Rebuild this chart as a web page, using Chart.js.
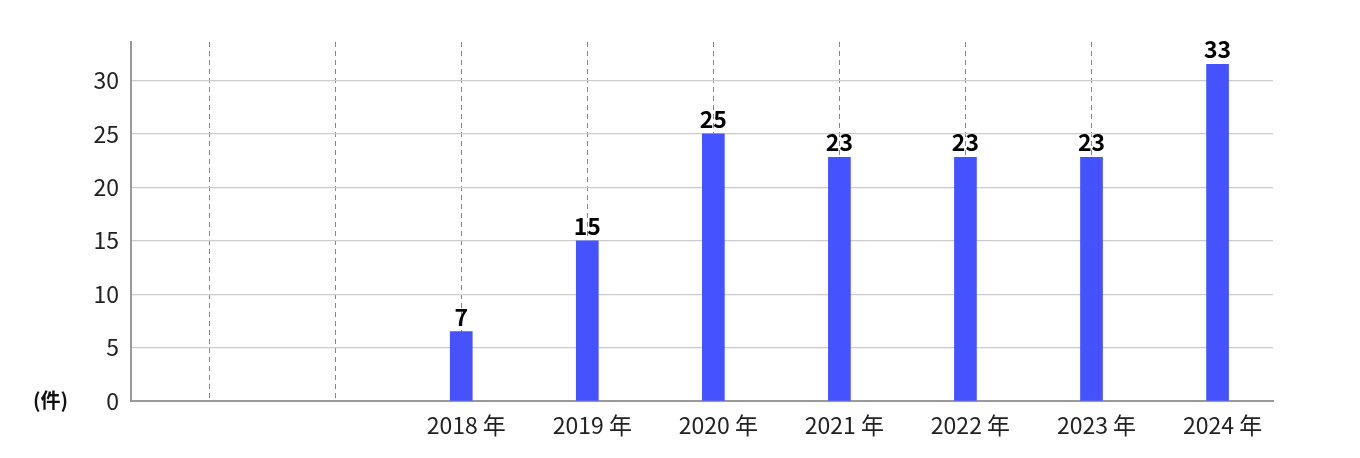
<!DOCTYPE html>
<html>
<head>
<meta charset="utf-8">
<script src="https://cdn.jsdelivr.net/npm/chart.js@4"></script>
<style>
html,body{margin:0;padding:0;background:#fff;}
#wrap{width:1360px;height:458px;position:relative;}
</style>
</head>
<body>
<div id="wrap"><canvas id="c" width="1360" height="458"></canvas></div>
<script>
const categories = ['', '', '2018 年', '2019 年', '2020 年', '2021 年', '2022 年', '2023 年', '2024 年'];
const barValues = [null, null, 6.5, 15, 25, 22.8, 22.8, 22.8, 31.5];
const valueLabels = ['', '', '7', '15', '25', '23', '23', '23', '33'];
const yTicks = [0, 5, 10, 15, 20, 25, 30];
const unitLabel = '(件)';

const FONT = "'Noto Sans CJK JP', 'Noto Sans', sans-serif";

const labelPlugin = {
  id: 'valueLabels',
  afterDatasetsDraw(chart) {
    const ctx = chart.ctx;
    const meta = chart.getDatasetMeta(0);
    ctx.save();
    ctx.font = 'bold 23px ' + FONT;
    ctx.fillStyle = '#000';
    ctx.textAlign = 'center';
    ctx.textBaseline = 'alphabetic';
    meta.data.forEach((el, i) => {
      if (!valueLabels[i]) return;
      ctx.fillText(valueLabels[i], el.x, el.y - 6);
    });
    const ys = chart.scales.y;
    ctx.font = '600 20px ' + FONT;
    ctx.textAlign = 'left';
    ctx.textBaseline = 'middle';
    ctx.fillStyle = '#111';
    ctx.fillText(unitLabel, 33, ys.getPixelForValue(0) - 1);
    ctx.restore();
  }
};

new Chart(document.getElementById('c'), {
  type: 'bar',
  data: {
    datasets: [{
      data: categories.map((c, i) => ({x: i, y: barValues[i]})),
      backgroundColor: '#4452ff',
      barThickness: 22,
      borderWidth: 0
    }]
  },
  options: {
    responsive: false,
    animation: false,
    devicePixelRatio: 1,
    layout: {padding: {top: 42, right: 87, left: 0, bottom: 0}},
    plugins: {legend: {display: false}, tooltip: {enabled: false}},
    scales: {
      x: {
        type: 'linear',
        offset: false,
        min: -0.62,
        max: 8.44,
        afterFit(s) { s.height = 57; },
        afterBuildTicks(s) { s.ticks = categories.map((c, i) => ({value: i})); },
        ticks: {
          autoSkip: false,
          maxRotation: 0,
          padding: 10,
          labelOffset: 5,
          color: '#222',
          font: {family: FONT, size: 23},
          callback: v => categories[v] || ''
        },
        grid: {
          offset: false,
          color: ctx => (ctx.tick && ctx.tick.value < 8) ? '#888' : 'transparent',
          drawTicks: false,
          lineWidth: 1
        },
        border: {display: true, color: '#999', width: 2, dash: [5, 4]}
      },
      y: {
        min: 0,
        max: 33.6,
        afterFit(s) { s.width = 131; },
        afterBuildTicks(s) { s.ticks = yTicks.map(v => ({value: v})); },
        ticks: {
          padding: 12,
          color: '#222',
          font: {family: FONT, size: 23},
          callback: v => String(v)
        },
        grid: {
          color: ctx => (ctx.tick && ctx.tick.value > 0) ? '#cccccc' : 'transparent',
          drawTicks: false,
          lineWidth: 1.2
        },
        border: {display: true, color: '#999', width: 2}
      }
    }
  },
  plugins: [labelPlugin]
});
</script>
</body>
</html>
